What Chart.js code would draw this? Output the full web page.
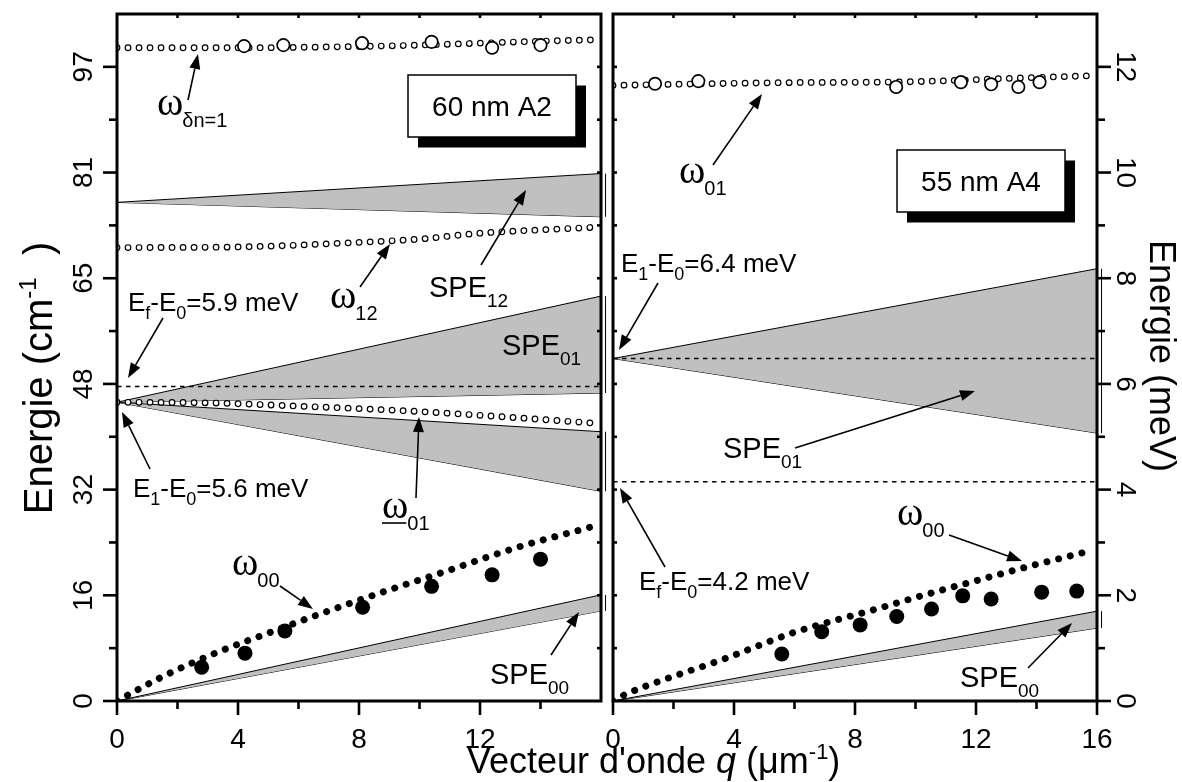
<!DOCTYPE html>
<html lang="fr">
<head>
<meta charset="UTF-8">
<title>Energie vs vecteur d'onde</title>
<script src="https://cdn.jsdelivr.net/npm/chart.js"></script>
<style>
  body { margin: 0; background: #fff; }
  #wrap { position: relative; width: 1182px; height: 782px; }
  #wrap canvas { position: absolute; left: 0; top: 0; }
</style>
</head>
<body>
<div id="wrap">
  <canvas id="leftChart" width="1182" height="782"></canvas>
  <canvas id="rightChart" width="1182" height="782"></canvas>
</div>
<script>
// ---------- left panel: 60 nm A2 (q in µm^-1, energy in cm^-1) ----------
const qL_dn1 = [0, 4, 8, 10, 12, 14, 15.8];
const eL_dn1 = [99.7, 99.7, 99.9, 100.1, 100.4, 100.7, 100.9];
const qL_dn1Exp = [4.2, 5.5, 8.1, 10.4, 12.4, 14.0];
const eL_dn1Exp = [99.95, 100.1, 100.4, 100.6, 99.7, 100.1];
const qL_w12 = [0, 4, 8, 10, 12, 14, 15.8];
const eL_w12 = [69.2, 69.3, 70.0, 70.5, 71.4, 71.9, 72.3];
const qBand = [0, 16];
const eL_spe12Hi = [76.1, 80.5];
const eL_spe12Lo = [76.1, 73.9];
const eL_spe01aHi = [45.6, 61.8];
const eL_spe01aLo = [45.6, 47.0];
const eL_spe01bHi = [45.6, 41.1];
const eL_spe01bLo = [45.6, 32.0];
const eL_spe00Hi = [0, 16.2];
const eL_spe00Lo = [0, 13.75];
const eL_fermi = [48.0, 48.0];
const qL_w01 = [0, 3, 6, 9.9, 13, 15.8];
const eL_w01 = [45.6, 45.5, 45.0, 44.2, 43.3, 42.4];
const qL_w00 = [0, 1.5, 3.3, 5.2, 6.6, 8.8, 11, 13.2, 15.7];
const eL_w00 = [0, 3.7, 7.4, 10.7, 13.1, 16.65, 20.0, 23.4, 26.6];
const qL_w00Exp = [2.8, 4.23, 5.55, 8.12, 10.4, 12.4, 14.0];
const eL_w00Exp = [5.15, 7.3, 10.7, 14.3, 17.5, 19.25, 21.65];

// ---------- right panel: 55 nm A4 (q in µm^-1, energy in meV) ----------
const qR_w01 = [0, 5.5, 10, 13, 15.7];
const eR_w01 = [11.65, 11.70, 11.72, 11.78, 11.83];
const qR_w01Exp = [1.39, 2.82, 9.36, 11.5, 12.5, 13.4, 14.1];
const eR_w01Exp = [11.68, 11.73, 11.62, 11.71, 11.67, 11.62, 11.71];
const eR_spe01Hi = [6.48, 8.18];
const eR_spe01Lo = [6.48, 5.07];
const eR_e1 = [6.48, 6.48];
const eR_fermi = [4.15, 4.15];
const eR_spe00Hi = [0, 1.70];
const eR_spe00Lo = [0, 1.38];
const qR_w00 = [0, 0.43, 1.66, 3.6, 6.0, 8.7, 10.2, 12.6, 13.7, 15.7];
const eR_w00 = [0, 0.13, 0.40, 0.78, 1.30, 1.74, 1.99, 2.37, 2.54, 2.83];
const qR_w00Exp = [5.58, 6.9, 8.17, 9.38, 10.53, 11.56, 12.5, 14.17, 15.33];
const eR_w00Exp = [0.89, 1.31, 1.44, 1.60, 1.74, 1.99, 1.93, 2.06, 2.08];

// ---------- axes ----------
const MEV_TO_CM = 8.0655;
const yMaxMeV = 13;
const xMajorL = [0, 4, 8, 12];
const xLabelsL = ['0', '4', '8', '12'];
const xMajorR = [0, 4, 8, 12, 16];
const xLabelsR = ['0', '4', '8', '12', '16'];
const xMinor = [2, 6, 10, 14];
const yMajorMeV = [0, 2, 4, 6, 8, 10, 12];
const yMinorMeV = [1, 3, 5, 7, 9, 11];
const yLabelsCm = ['0', '16', '32', '48', '65', '81', '97'];
const yLabelsMeV = ['0', '2', '4', '6', '8', '10', '12'];
const qEdge = 16.15; // closing edge of the SPE bands, just outside the frame

const SANS = '"Liberation Sans", Arial, sans-serif';
const SERIF = '"Liberation Serif", "Times New Roman", serif';
const GREY = '#c0c0c0';

const pts = (qs, es) => qs.map((q, i) => ({ x: q, y: es[i] }));

function ringLine(data) {
  // small open circles: black round dots with a white centre
  const base = { data, borderDash: [0.01, 11], borderCapStyle: 'round', pointRadius: 0,
                 fill: false, cubicInterpolationMode: 'monotone' };
  return [
    Object.assign({}, base, { borderColor: '#000', borderWidth: 6.8, order: 6 }),
    Object.assign({}, base, { borderColor: '#fff', borderWidth: 4.4, order: 5 })
  ];
}
function dotLine(data) {
  return { data, borderColor: '#000', borderWidth: 7, borderDash: [0.01, 12],
           borderCapStyle: 'round', pointRadius: 0, fill: false,
           cubicInterpolationMode: 'monotone', order: 4 };
}
function band(hi, lo) {
  return [
    { data: pts(qBand, hi), borderColor: '#000', borderWidth: 1, backgroundColor: GREY,
      fill: '+1', pointRadius: 0, order: 10 },
    { data: pts(qBand, lo), borderColor: '#000', borderWidth: 1, fill: false,
      pointRadius: 0, order: 10 },
    { data: [{ x: qEdge, y: lo[lo.length - 1] }, { x: qEdge, y: hi[hi.length - 1] }],
      borderColor: '#000', borderWidth: 1, pointRadius: 0, fill: false, clip: false, order: 9 }
  ];
}
function dashed(es) {
  return { data: pts(qBand, es), borderColor: '#000', borderWidth: 1.5, borderDash: [4.5, 4.5],
           pointRadius: 0, fill: false, order: 8 };
}
function markers(qs, es, open) {
  return { data: pts(qs, es), showLine: false, order: 0,
           pointRadius: open ? 6.2 : 7.5, pointHoverRadius: 0,
           pointBackgroundColor: open ? '#fff' : '#000',
           pointBorderColor: '#000', pointBorderWidth: open ? 1.7 : 0 };
}

// ---------- text helpers ----------
function rich(ctx, x, y, parts) {
  let cx = x;
  parts.forEach(p => {
    ctx.font = p[1];
    ctx.fillText(p[0], cx, y + (p[2] || 0));
    cx += ctx.measureText(p[0]).width;
  });
  return cx - x;
}
function richWidth(ctx, parts) {
  let w = 0;
  parts.forEach(p => { ctx.font = p[1]; w += ctx.measureText(p[0]).width; });
  return w;
}
function omegaLabel(ctx, x, y, sub, underline) {
  ctx.font = '40px ' + SERIF;
  ctx.fillText('ω', x, y);
  const w = ctx.measureText('ω').width;
  ctx.font = '20px ' + SANS;
  ctx.fillText(sub, x + w - 1, y + 12);
  if (underline) {
    ctx.lineWidth = 1.6;
    ctx.beginPath(); ctx.moveTo(x, y + 5); ctx.lineTo(x + w - 2, y + 5); ctx.stroke();
  }
}
function speLabel(ctx, x, y, sub) {
  rich(ctx, x, y, [['SPE', '29px ' + SANS], [sub, '19px ' + SANS, 10]]);
}
function energyLabel(ctx, x, y, sub, rest) {
  const big = '26px ' + SANS, small = '18px ' + SANS;
  rich(ctx, x, y, [['E', big], [sub, small, 8], ['-E', big], ['0', small, 8], [rest, big]]);
}
function arrow(ctx, x1, y1, x2, y2) {
  const ang = Math.atan2(y2 - y1, x2 - x1), len = 15, hw = 5.5;
  const bx = x2 - len * Math.cos(ang), by = y2 - len * Math.sin(ang);
  ctx.lineWidth = 1.6;
  ctx.beginPath(); ctx.moveTo(x1, y1); ctx.lineTo(bx, by); ctx.stroke();
  ctx.beginPath();
  ctx.moveTo(x2, y2);
  ctx.lineTo(bx + hw * Math.sin(ang), by - hw * Math.cos(ang));
  ctx.lineTo(bx - hw * Math.sin(ang), by + hw * Math.cos(ang));
  ctx.closePath(); ctx.fill();
}
function labelBox(ctx, x, y, w, h, text) {
  ctx.fillStyle = '#000';
  ctx.fillRect(x + 10, y + 10.5, w, h);
  ctx.fillStyle = '#fff';
  ctx.fillRect(x, y, w, h);
  ctx.lineWidth = 1.5;
  ctx.strokeRect(x, y, w, h);
  ctx.fillStyle = '#000';
  ctx.font = '28px ' + SANS;
  ctx.textAlign = 'center';
  ctx.fillText(text, x + w / 2, y + h / 2 + 10);
  ctx.textAlign = 'left';
}

// ---------- frame, ticks, labels, annotations ----------
function framePlugin(cfg) {
  return {
    id: 'frame',
    afterDatasetsDraw(chart) {
      const ctx = chart.ctx, a = chart.chartArea;
      const xs = chart.scales.x, ys = chart.scales.y;
      const yv = m => ys.getPixelForValue(m * cfg.yFactor);
      const seg = (x1, y1, x2, y2) => { ctx.beginPath(); ctx.moveTo(x1, y1); ctx.lineTo(x2, y2); ctx.stroke(); };
      ctx.save();
      ctx.strokeStyle = '#000';
      ctx.fillStyle = '#000';
      ctx.lineWidth = 2.6;
      // bottom ticks (outside) and top ticks (inside)
      cfg.xMajor.forEach(v => { const x = xs.getPixelForValue(v); seg(x, a.bottom, x, a.bottom + 14); });
      xMinor.forEach(v => { const x = xs.getPixelForValue(v); seg(x, a.bottom, x, a.bottom + 8); });
      [2, 4, 6, 8, 10, 12, 14].forEach(v => { const x = xs.getPixelForValue(v); seg(x, a.top, x, a.top + 4); });
      // y ticks: long ones outside, small ones on the opposite edge
      const outX = cfg.side === 'left' ? a.left : a.right;
      const inX = cfg.side === 'left' ? a.right : a.left;
      const dir = cfg.side === 'left' ? -1 : 1;
      yMajorMeV.forEach(m => seg(outX, yv(m), outX + dir * 14, yv(m)));
      yMinorMeV.forEach(m => seg(outX, yv(m), outX + dir * 8, yv(m)));
      yMajorMeV.concat(yMinorMeV).forEach(m => { if (m > 0) seg(inX, yv(m), inX + dir * 4, yv(m)); });
      // frame
      ctx.lineWidth = 3;
      ctx.strokeRect(a.left, a.top, a.right - a.left, a.bottom - a.top);
      // tick labels
      ctx.font = '28px ' + SANS;
      ctx.textAlign = 'center';
      cfg.xMajor.forEach((v, i) => ctx.fillText(cfg.xLabels[i], xs.getPixelForValue(v), a.bottom + 47));
      yMajorMeV.forEach((m, i) => {
        ctx.save();
        if (cfg.side === 'left') { ctx.translate(a.left - 25, yv(m)); ctx.rotate(-Math.PI / 2); }
        else { ctx.translate(a.right + 20, yv(m)); ctx.rotate(Math.PI / 2); }
        ctx.fillText(cfg.yLabels[i], 0, 0);
        ctx.restore();
      });
      ctx.textAlign = 'left';
      cfg.annotate(ctx);
      ctx.restore();
    }
  };
}

function annotateLeft(ctx) {
  omegaLabel(ctx, 157, 115, 'δn=1');
  arrow(ctx, 188, 100, 198, 54);
  labelBox(ctx, 408, 75, 168, 62, '60 nm A2');
  omegaLabel(ctx, 330, 308, '12');
  arrow(ctx, 360, 287, 390, 244);
  speLabel(ctx, 429, 297, '12');
  arrow(ctx, 481, 265, 526, 190);
  speLabel(ctx, 502, 355, '01');
  energyLabel(ctx, 128, 311, 'f', '=5.9 meV');
  arrow(ctx, 163, 318, 128, 378);
  energyLabel(ctx, 133, 497, '1', '=5.6 meV');
  arrow(ctx, 150, 469, 122, 412);
  omegaLabel(ctx, 382, 518, '01', true);
  arrow(ctx, 416, 498, 419, 417);
  omegaLabel(ctx, 232, 575, '00');
  arrow(ctx, 280, 586, 313, 609);
  speLabel(ctx, 490, 684, '00');
  arrow(ctx, 551, 655, 579, 612);

  // axis titles
  const big = '36px ' + SANS, sup = '22px ' + SANS;
  rich(ctx, 467, 773, [["Vecteur d'onde ", big], ['q', 'italic ' + big], [' (μm', big], ['-1', sup, -14], [')', big]]);
  const tBig = '40px ' + SANS, tSup = '24px ' + SANS;
  const parts = [['Energie (cm', tBig], ['-1', tSup, -16], ['  )', tBig]];
  const w = richWidth(ctx, parts);
  ctx.save();
  ctx.translate(52, 378);
  ctx.rotate(-Math.PI / 2);
  rich(ctx, -w / 2, 0, parts);
  ctx.restore();
}

function annotateRight(ctx) {
  omegaLabel(ctx, 679, 183, '01');
  arrow(ctx, 713, 165, 762, 94);
  labelBox(ctx, 897, 150, 168, 62, '55 nm A4');
  energyLabel(ctx, 621, 272, '1', '=6.4 meV');
  arrow(ctx, 658, 283, 619, 350);
  speLabel(ctx, 723, 458, '01');
  arrow(ctx, 795, 448, 975, 391);
  energyLabel(ctx, 639, 590, 'f', '=4.2 meV');
  arrow(ctx, 665, 567, 620, 488);
  omegaLabel(ctx, 897, 525, '00');
  arrow(ctx, 949, 535, 1022, 561);
  speLabel(ctx, 960, 687, '00');
  arrow(ctx, 1028, 668, 1072, 623);

  const big = '36px ' + SANS;
  ctx.font = big;
  const t = 'Energie (meV)';
  const w = ctx.measureText(t).width;
  ctx.save();
  ctx.translate(1150, 356);
  ctx.rotate(Math.PI / 2);
  ctx.fillText(t, -w / 2, 0);
  ctx.restore();
}

function baseOptions(yMax, padding) {
  return {
    responsive: false,
    animation: false,
    layout: { padding },
    plugins: { legend: { display: false }, tooltip: { enabled: false } },
    events: [],
    scales: {
      x: { type: 'linear', min: 0, max: 16, display: false },
      y: { type: 'linear', min: 0, max: yMax, display: false }
    }
  };
}

// ---------- left chart ----------
const leftSets = [].concat(
  [markers(qL_dn1Exp, eL_dn1Exp, true), markers(qL_w00Exp, eL_w00Exp, false)],
  ringLine(pts(qL_dn1, eL_dn1)),
  ringLine(pts(qL_w12, eL_w12)),
  ringLine(pts(qL_w01, eL_w01)),
  [dotLine(pts(qL_w00, eL_w00)), dashed(eL_fermi)],
  band(eL_spe12Hi, eL_spe12Lo),
  band(eL_spe01aHi, eL_spe01aLo),
  band(eL_spe01bHi, eL_spe01bLo),
  band(eL_spe00Hi, eL_spe00Lo)
);
new Chart(document.getElementById('leftChart'), {
  type: 'line',
  data: { datasets: leftSets },
  options: baseOptions(yMaxMeV * MEV_TO_CM, { left: 117, right: 581, top: 14, bottom: 81 }),
  plugins: [framePlugin({ side: 'left', yFactor: MEV_TO_CM, xMajor: xMajorL, xLabels: xLabelsL,
                          yLabels: yLabelsCm, annotate: annotateLeft })]
});

// ---------- right chart ----------
const rightSets = [].concat(
  [markers(qR_w01Exp, eR_w01Exp, true), markers(qR_w00Exp, eR_w00Exp, false)],
  ringLine(pts(qR_w01, eR_w01)),
  [dotLine(pts(qR_w00, eR_w00)), dashed(eR_e1), dashed(eR_fermi)],
  band(eR_spe01Hi, eR_spe01Lo),
  band(eR_spe00Hi, eR_spe00Lo)
);
new Chart(document.getElementById('rightChart'), {
  type: 'line',
  data: { datasets: rightSets },
  options: baseOptions(yMaxMeV, { left: 613, right: 85, top: 14, bottom: 81 }),
  plugins: [framePlugin({ side: 'right', yFactor: 1, xMajor: xMajorR, xLabels: xLabelsR,
                          yLabels: yLabelsMeV, annotate: annotateRight })]
});
</script>
</body>
</html>
